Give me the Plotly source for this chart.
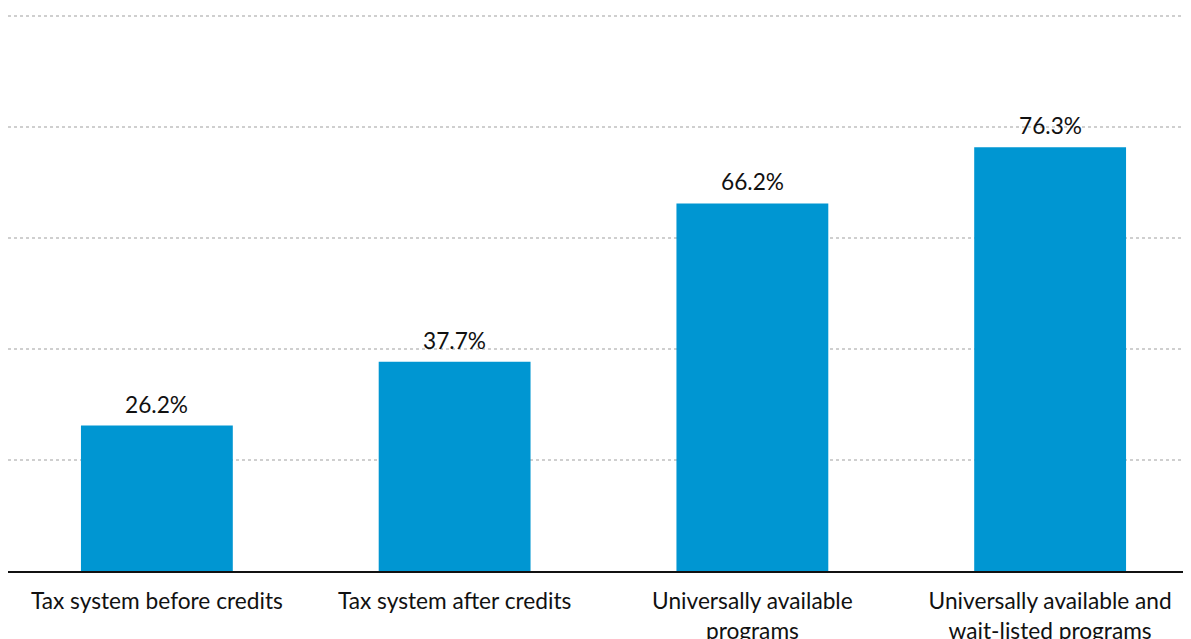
import plotly.graph_objects as go

categories = ["Tax system before credits", "Tax system after credits",
              "Universally available programs", "Universally available and wait-listed programs"]
tick_labels = ["Tax system before credits", "Tax system after credits",
               "Universally available<br>programs", "Universally available and<br>wait-listed programs"]
values = [26.2, 37.7, 66.2, 76.3]
value_labels = [f"{v:.1f}%" for v in values]

FONT = "Lato, 'Open Sans', sans-serif"
BAR_COLOR = "#0096d2"
TEXT_COLOR = "#111111"

fig = go.Figure()
fig.add_trace(go.Bar(
    x=categories, y=values, marker=dict(color=BAR_COLOR, line=dict(width=0)),
    width=0.51, cliponaxis=False, hoverinfo="skip",
))
for c, v, t in zip(categories, values, value_labels):
    fig.add_annotation(x=c, y=v, text=t, showarrow=False, yanchor="bottom",
                       yshift=6, font=dict(family=FONT, size=22.7, color=TEXT_COLOR))

fig.update_layout(
    width=1191, height=639,
    margin=dict(l=0, r=0, t=5, b=76),
    paper_bgcolor="white", plot_bgcolor="white",
    showlegend=False,
    font=dict(family=FONT, size=22.7, color=TEXT_COLOR),
    xaxis=dict(
        range=[-0.5, 3.5], tickmode="array", tickvals=categories, ticktext=tick_labels,
        showline=True, linecolor="#111111", linewidth=2, showgrid=False,
        ticks="outside", ticklen=9, tickcolor="rgba(0,0,0,0)",
        tickfont=dict(family=FONT, size=22.7, color=TEXT_COLOR),
    ),
    yaxis=dict(
        range=[0, 100.5], tickvals=[20, 40, 60, 80, 100], showticklabels=False,
        showgrid=True, gridcolor="#cfcfcf", gridwidth=1.5, griddash="dot",
        zeroline=False, showline=False,
    ),
)

fig.write_html("out.html")
